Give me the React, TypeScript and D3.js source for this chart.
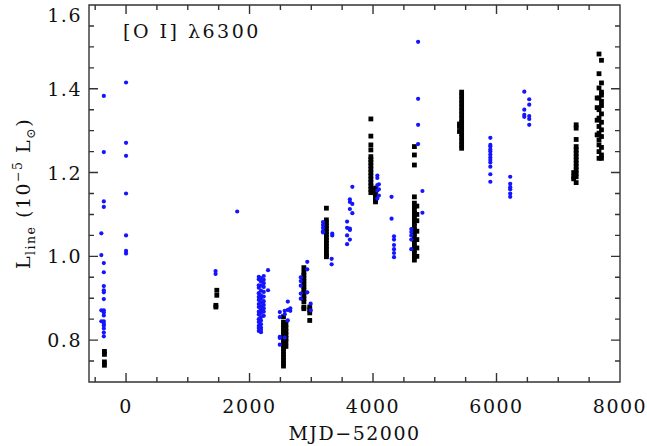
import React from "react";
import * as d3 from "d3";

// blue: [MJD-52000, line luminosities at that epoch]
const blueGroups: [number, number[]][] = [
  [-360, [1.383, 1.249, 1.131, 1.118, 0.984, 0.962, 0.929, 0.919, 0.914, 0.898, 0.871, 0.866, 0.859, 0.845, 0.835, 0.828, 0.818, 0.809, 0.839]],
  [-400, [1.055, 1.003, 0.871, 0.845]],
  [0, [1.415, 1.271, 1.24, 1.15, 1.05, 1.013, 1.007]],
  [1450, [0.965, 0.958]],
  [1800, [1.107]],
  [2150, [0.951, 0.945, 0.931, 0.925, 0.912, 0.903, 0.896, 0.886, 0.879, 0.868, 0.861, 0.85, 0.843, 0.834, 0.829, 0.822]],
  [2185, [0.948, 0.94, 0.93, 0.918, 0.907, 0.899, 0.89, 0.881, 0.873, 0.865, 0.855, 0.847, 0.838, 0.83, 0.825, 0.819]],
  [2230, [0.953, 0.944, 0.936, 0.927, 0.915, 0.904, 0.893, 0.884, 0.876, 0.868, 0.858]],
  [2300, [0.967, 0.919]],
  [2490, [0.867, 0.855, 0.808, 0.805, 0.789]],
  [2570, [0.87, 0.862, 0.806]],
  [2620, [0.892, 0.847, 0.872]],
  [2660, [0.87, 0.876]],
  [2830, [0.95, 0.941, 0.93, 0.911, 0.899]],
  [2935, [0.987, 0.969, 0.914]],
  [2990, [0.887, 0.871]],
  [3190, [1.082, 1.075, 1.068, 1.06, 1.057]],
  [3340, [1.054, 1.05]],
  [3330, [0.994, 0.981]],
  [3580, [1.083, 1.068, 1.05, 1.029]],
  [3625, [1.136, 1.13, 1.113, 1.063, 1.04, 1.066]],
  [3665, [1.166, 1.125, 1.103]],
  [4070, [1.193, 1.187, 1.17, 1.157, 1.138]],
  [4095, [1.172, 1.16, 1.145]],
  [4300, [1.142, 1.09]],
  [4340, [1.048, 1.04, 1.027, 1.017, 1.008, 0.998]],
  [4620, [1.065, 1.058, 1.05, 1.04, 1.017]],
  [4730, [1.512, 1.376, 1.314, 1.268]],
  [4800, [1.156, 1.104]],
  [5900, [1.283, 1.266, 1.262, 1.255, 1.25, 1.243, 1.236, 1.23, 1.224, 1.214, 1.196, 1.178]],
  [6222, [1.19, 1.173, 1.165, 1.16, 1.15, 1.142]],
  [6450, [1.393, 1.35, 1.338, 1.333]],
  [6530, [1.375, 1.362, 1.335, 1.328, 1.314]],
];

// black squares
const blackGroups: [number, number[]][] = [
  [-350, [0.773, 0.766, 0.748, 0.74]],
  [1470, [0.919, 0.907]],
  [1455, [0.883, 0.879]],
  [2550, [0.856, 0.843, 0.836, 0.829, 0.822, 0.815, 0.808, 0.801, 0.794, 0.787, 0.78, 0.773, 0.766, 0.759, 0.752, 0.745, 0.738]],
  [2590, [0.838, 0.829, 0.82, 0.812, 0.804, 0.796, 0.785]],
  [2880, [0.973, 0.962, 0.955, 0.948, 0.941, 0.934, 0.927, 0.92, 0.913, 0.906, 0.899, 0.892, 0.879, 0.875]],
  [2975, [0.879, 0.872, 0.865, 0.847]],
  [3245, [1.115, 1.087, 1.08, 1.073, 1.066, 1.059, 1.052, 1.045, 1.038, 1.031, 1.024, 1.017, 1.01, 1.003, 0.999]],
  [3965, [1.328, 1.287, 1.266, 1.254, 1.238, 1.231, 1.224, 1.216, 1.208, 1.2, 1.192, 1.184, 1.176, 1.168, 1.16, 1.152]],
  [4040, [1.163, 1.156, 1.149, 1.142, 1.135, 1.13]],
  [4670, [1.262, 1.242, 1.218, 1.142, 1.127, 1.119, 1.111, 1.103, 1.095, 1.087, 1.079, 1.071, 1.063, 1.055, 1.047, 1.039, 1.031, 1.023, 1.015, 1.007, 0.999, 0.991]],
  [4710, [1.12, 1.1, 1.085, 1.06, 1.04, 1.02, 1.0]],
  [5435, [1.392, 1.383, 1.374, 1.365, 1.356, 1.347, 1.338, 1.329, 1.32, 1.311, 1.302, 1.293, 1.284, 1.275, 1.266, 1.258]],
  [5400, [1.316, 1.31, 1.298]],
  [7290, [1.314, 1.306, 1.279, 1.262, 1.254, 1.246, 1.238, 1.23, 1.222, 1.214, 1.206, 1.198, 1.19, 1.176]],
  [7250, [1.2, 1.19, 1.185]],
  [7660, [1.483, 1.436, 1.402, 1.378, 1.35, 1.33, 1.31, 1.294, 1.278, 1.266, 1.25, 1.234]],
  [7700, [1.468, 1.414, 1.392, 1.385, 1.37, 1.36, 1.34, 1.32, 1.302, 1.286, 1.26, 1.242, 1.234]],
  [7630, [1.378, 1.355, 1.325, 1.29]],
];

const xDomain = [-600, 8000];
const yDomain = [0.7, 1.6];

const W = 647;
const H = 446;
const plotLeft = 89;
const plotRight = 620;
const plotTop = 5;
const plotBottom = 382;

const font = "DejaVu Serif";
const axisColor = "#333333";

export default function App() {
  const x = d3.scaleLinear().domain(xDomain).range([plotLeft, plotRight]);
  const y = d3.scaleLinear().domain(yDomain).range([plotBottom, plotTop]);

  const xMajor = x.ticks(5);
  const xMinor = d3.range(-500, 8001, 500);
  const yMajor = y.ticks(5);
  const yMinor = d3.ticks(0.7, 1.6, 18);

  const blue = blueGroups.flatMap(([m, vals]) => vals.map((v) => [m, v]));
  const black = blackGroups.flatMap(([m, vals]) => vals.map((v) => [m, v]));

  const majLen = 9;
  const minLen = 5;

  // frame + ticks as one path
  let axisPath = `M${plotLeft},${plotTop}H${plotRight}V${plotBottom}H${plotLeft}Z`;
  xMinor.forEach((t) => {
    const len = xMajor.includes(t) ? majLen : minLen;
    axisPath += `M${x(t)},${plotBottom}v${-len}M${x(t)},${plotTop}v${len}`;
  });
  yMinor.forEach((t) => {
    const len = yMajor.some((m) => Math.abs(m - t) < 1e-6) ? majLen : minLen;
    axisPath += `M${plotLeft},${y(t)}h${len}M${plotRight},${y(t)}h${-len}`;
  });

  return (
    <svg width={W} height={H} style={{ position: "absolute", left: 0, top: 0 }} fontFamily={font}>
      {/* data */}
      {black.map(([m, v], i) => (
        <rect key={"k" + i} x={x(m) - 2.4} y={y(v) - 2.4} width={4.8} height={4.8} fill="#000" />
      ))}
      {blue.map(([m, v], i) => (
        <circle key={"b" + i} cx={x(m)} cy={y(v)} r={2.1} fill="#1414ff" />
      ))}

      {/* frame and ticks */}
      <path d={axisPath} style={{ fill: "none", stroke: axisColor, strokeWidth: 1.4 }} />

      {xMajor.map((t) => (
        <text key={"xl" + t} x={x(t)} y={413} textAnchor="middle" fontSize={19} letterSpacing={1.5} fill="#111">
          {d3.format("d")(t)}
        </text>
      ))}
      {yMajor.map((t) => (
        <text key={"yl" + t} x={82} y={Math.max(y(t) + 7, 22)} textAnchor="end" fontSize={19} letterSpacing={1.5} fill="#111">
          {d3.format(".1f")(t)}
        </text>
      ))}

      {/* axis titles */}
      <text x={(plotLeft + plotRight) / 2} y={440} textAnchor="middle" fontSize={19} letterSpacing={1.5} fill="#111">
        MJD−52000
      </text>
      <text transform={`translate(30,${(plotTop + plotBottom) / 2}) rotate(-90)`} textAnchor="middle" fontSize={19} letterSpacing={1.5} fill="#111">
        L<tspan fontSize={12.5} dy={5}>line</tspan>
        <tspan dy={-5}>{" (10"}</tspan>
        <tspan fontSize={12.5} dy={-8}>−5</tspan>
        <tspan dy={8}>{" L"}</tspan>
        <tspan fontSize={12.5} dy={5}>⊙</tspan>
        <tspan dy={-5}>)</tspan>
      </text>

      {/* line label */}
      <text x={123} y={38} fontSize={19} letterSpacing={2.5} fill="#111" style={{ whiteSpace: "pre" }}>
        {"[O I] λ6300"}
      </text>
    </svg>
  );
}
